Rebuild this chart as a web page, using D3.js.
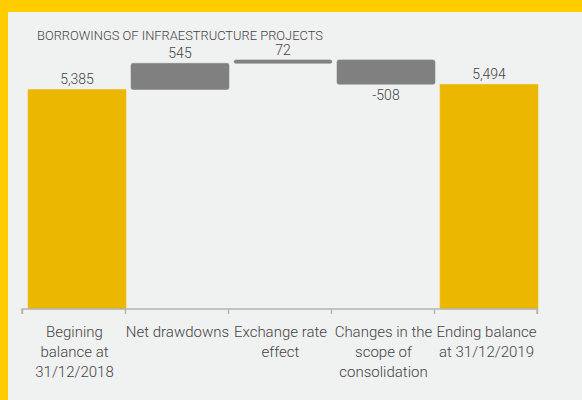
<!DOCTYPE html>
<html>
<head>
<meta charset="utf-8">
<script src="https://cdn.jsdelivr.net/npm/d3@7"></script>
<style>
  html, body { margin: 0; padding: 0; background: #F0F1F1; overflow: hidden; }
  svg { display: block; }
  text { font-family: Roboto, "Noto Sans", sans-serif; fill: #444; font-weight: 300; }
</style>
</head>
<body>
<svg id="chart" width="582" height="400"></svg>
<script>
// Waterfall: borrowings of infrastructure projects
const title = "BORROWINGS OF INFRAESTRUCTURE PROJECTS";
const categories = ["begin", "drawdowns", "fx", "scope", "end"];
const tickLines = [
  ["Begining", "balance at", "31/12/2018"],
  ["Net drawdowns"],
  ["Exchange rate", "effect"],
  ["Changes in the", "scope of", "consolidation"],
  ["Ending balance", "at 31/12/2019"]
];
const values = [5385, 545, 72, -508, 5494];
const kinds = ["total", "delta", "delta", "delta", "total"];

const W = 582, H = 400;
const svg = d3.select("#chart");

// panel background and yellow frame (top and left)
svg.append("rect").attr("width", W).attr("height", H).attr("fill", "#F0F1F1");
svg.append("rect").attr("width", W).attr("height", 12).attr("fill", "#FFCC00");
svg.append("rect").attr("width", 8).attr("height", H).attr("fill", "#FFCC00");

// compute waterfall segments
let running = 0;
const segs = values.map((v, i) => {
  let lo, hi;
  if (kinds[i] === "total") { lo = 0; hi = v; running = v; }
  else { const start = running; running += v; lo = Math.min(start, running); hi = Math.max(start, running); }
  return { cat: categories[i], v, lo, hi, kind: kinds[i] };
});

const x = d3.scaleBand().domain(categories).range([22, 537]).paddingInner(0).paddingOuter(0);
const y = d3.scaleLinear().domain([800, 6000]).range([309, 60]);
const baseY = y.range()[0];
const barOffset = 6, barW = x.bandwidth() - 5;

// bars
svg.append("g").selectAll("rect").data(segs).join("rect")
  .attr("x", d => x(d.cat) + barOffset)
  .attr("width", barW)
  .attr("y", d => y(d.hi))
  .attr("height", d => (d.kind === "total" ? baseY : y(d.lo)) - y(d.hi))
  .attr("rx", d => d.kind === "total" ? 0 : 2)
  .attr("fill", d => d.kind === "total" ? "#EBB700" : "#808080")
  .attr("stroke", d => d.kind === "total" ? "#EFC22A" : "#8a8a8a")
  .attr("stroke-width", 0.6);

// value labels (plain hyphen for negatives)
const fmt = d3.formatLocale({ decimal: ".", thousands: ",", grouping: [3], currency: ["", ""], minus: "-" }).format(",");
svg.append("g").selectAll("text").data(segs).join("text")
  .attr("x", d => x(d.cat) + barOffset + barW / 2)
  .attr("y", d => d.v < 0 ? y(d.lo) + 16 : y(d.hi) - 5)
  .attr("text-anchor", "middle")
  .attr("font-size", 14)
  .text(d => fmt(d.v));

// axis with ticks at band edges
const edges = d3.scaleLinear().domain([0, categories.length]).range(x.range());
const axis = svg.append("g").attr("transform", `translate(0,${baseY})`)
  .call(d3.axisBottom(edges).ticks(categories.length).tickSize(5).tickSizeOuter(5).tickFormat(""));
axis.selectAll("path, line").attr("stroke", "#b4b4b4").attr("stroke-width", 1.5);
axis.select(".domain").attr("d", `M${x.range()[0]},5V0H${x.range()[1]}V5`);

// category labels
const lab = svg.append("g").selectAll("text").data(categories).join("text")
  .attr("text-anchor", "middle")
  .attr("font-size", 15);
lab.each(function(c, i) {
  const t = d3.select(this);
  tickLines[i].forEach((line, j) => {
    t.append("tspan").attr("x", x(c) + x.bandwidth() / 2 + 1).attr("y", 337 + j * 20).text(line);
  });
});

// title
svg.append("text").attr("x", 37).attr("y", 39.5)
  .attr("font-size", 13.5)
  .attr("textLength", 286).attr("lengthAdjust", "spacingAndGlyphs")
  .text(title);
</script>
</body>
</html>
